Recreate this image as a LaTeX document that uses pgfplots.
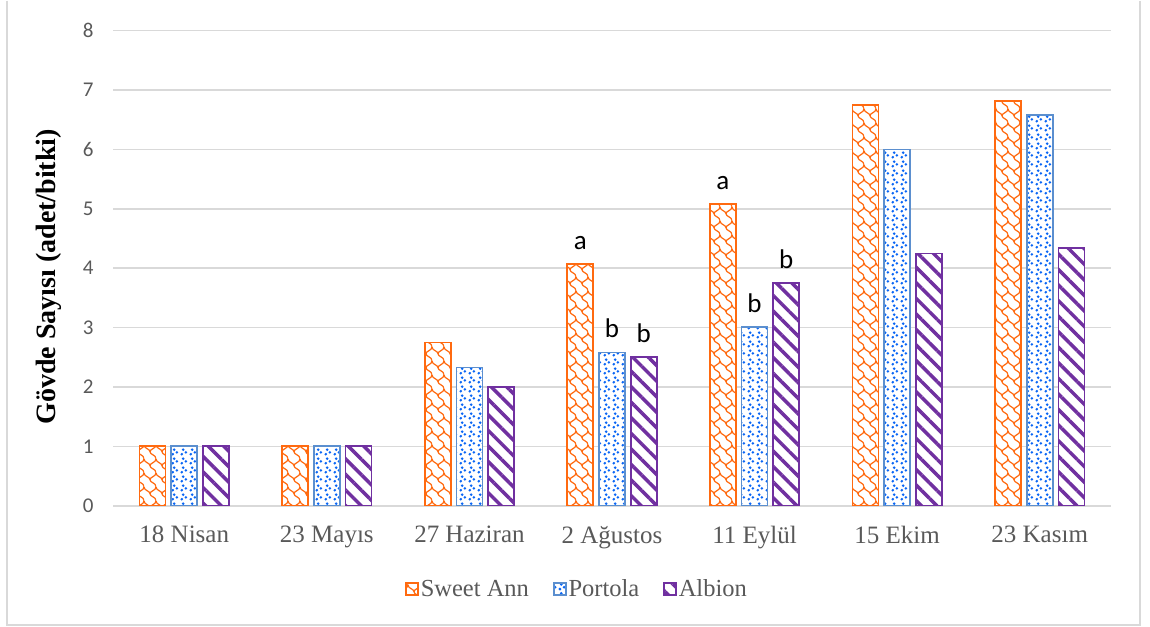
\documentclass[border=0pt]{standalone}
\usepackage{pgfplots}
\pgfplotsset{compat=1.18}
\usepackage{fontspec}
\setmainfont{Liberation Serif}
\newfontfamily\carlito{Carlito}
\usetikzlibrary{patterns,patterns.meta}

\definecolor{cOr}{HTML}{FF6A10}
\definecolor{cBlB}{HTML}{5B8FCF}
\definecolor{cBlD}{HTML}{0A66F5}
\definecolor{cPu}{HTML}{7030A0}
\definecolor{cGrid}{HTML}{D9D9D9}
\definecolor{cTxt}{HTML}{595959}

% shingle-like pattern
\pgfdeclarepattern{
  name=myscales,
  type=uncolored,
  bottom left={\pgfpoint{-.1pt}{-.1pt}},
  top right={\pgfpoint{12.1pt}{14.1pt}},
  tile size={\pgfpoint{12pt}{14pt}},
  code={
    \pgfsetlinewidth{1.2pt}
    \pgfpathmoveto{\pgfpoint{0pt}{14pt}}
    \pgfpathcurveto{\pgfpoint{0pt}{10pt}}{\pgfpoint{6pt}{10pt}}{\pgfpoint{6pt}{7pt}}
    \pgfpathcurveto{\pgfpoint{6pt}{4pt}}{\pgfpoint{12pt}{4pt}}{\pgfpoint{12pt}{0pt}}
    \pgfpathmoveto{\pgfpoint{12pt}{14pt}}
    \pgfpathcurveto{\pgfpoint{12pt}{10pt}}{\pgfpoint{6pt}{10pt}}{\pgfpoint{6pt}{7pt}}
    \pgfusepath{stroke}
  }
}
% dots pattern
\pgfdeclarepattern{
  name=mydots,
  type=uncolored,
  bottom left={\pgfpoint{0pt}{0pt}},
  top right={\pgfpoint{9pt}{9pt}},
  tile size={\pgfpoint{9pt}{9pt}},
  code={
    \pgfpathcircle{\pgfpoint{2pt}{2pt}}{1.6pt}
    \pgfpathcircle{\pgfpoint{6.5pt}{4pt}}{1.6pt}
    \pgfpathcircle{\pgfpoint{3.5pt}{7pt}}{1.6pt}
    \pgfusepath{fill}
  }
}

\begin{document}
\begin{tikzpicture}[x=1pt,y=1pt]
\path (0,0) rectangle (1150,625);
\draw[cGrid, line width=1.5pt] (7,626) -- (7,2) -- (1140,2) -- (1140,626);
\begin{axis}[
  at={(113pt,121pt)}, anchor=south west,
  scale only axis,
  width=998pt, height=475pt,
  ybar=5.7pt, bar width=26pt,
  xmin=-0.5, xmax=6.5,
  ymin=0, ymax=8,
  ytick={0,1,...,8},
  xtick={0,...,6},
  xticklabels={18 Nisan,23 Mayıs,27 Haziran,2 Ağustos,11 Eylül,15 Ekim,23 Kasım},
  axis line style={draw=none},
  major tick length=0pt,
  ymajorgrids,
  grid style={cGrid, line width=1.5pt},
  xticklabel style={font=\fontsize{25}{30}\selectfont, text=cTxt, yshift=-17pt},
  yticklabel style={font=\carlito\fontsize{21}{24}\selectfont, text=cTxt, xshift=-16pt},
  /pgf/number format/assume math mode=true,
  ylabel={Gövde Sayısı (adet/bitki)},
  ylabel style={font=\bfseries\fontsize{28}{32}\selectfont, at={(axis description cs:-0.064,0.482)}, anchor=center},
  legend style={at={(axis description cs:0.465,-0.175)}, anchor=center, draw=none,
    font=\fontsize{24.5}{28}\selectfont, text=cTxt, legend columns=3,
    /tikz/every even column/.append style={column sep=22pt},
    inner sep=0pt},
  legend image code/.code={\draw[#1, line width=1.5pt] (1pt,-6pt) rectangle (13pt,6pt);},
  point meta=explicit symbolic,
  nodes near coords,
  nodes near coords style={font=\carlito\fontsize{27}{30}\selectfont, text=black, anchor=base, yshift=15pt},
]
\addplot[draw=cOr, line width=1.8pt, preaction={fill=white}, pattern=myscales, pattern color=cOr]
 coordinates {(0,1) [] (1,1) [] (2,2.75) [] (3,4.07) [a] (4,5.08) [a] (5,6.75) [] (6,6.82) []};
\addplot[draw=cBlB, line width=1.8pt, preaction={fill=white}, pattern=mydots, pattern color=cBlD]
 coordinates {(0,1) [] (1,1) [] (2,2.33) [] (3,2.58) [b] (4,3.01) [b] (5,6.0) [] (6,6.58) []};
\addplot[draw=cPu, line width=1.8pt, preaction={fill=white}, pattern={Lines[angle=-45,distance=11pt,line width=3.5pt]}, pattern color=cPu]
 coordinates {(0,1) [] (1,1) [] (2,2.0) [] (3,2.50) [b] (4,3.75) [b] (5,4.25) [] (6,4.34) []};
\legend{Sweet Ann,Portola,Albion}
\end{axis}
\end{tikzpicture}
\end{document}
